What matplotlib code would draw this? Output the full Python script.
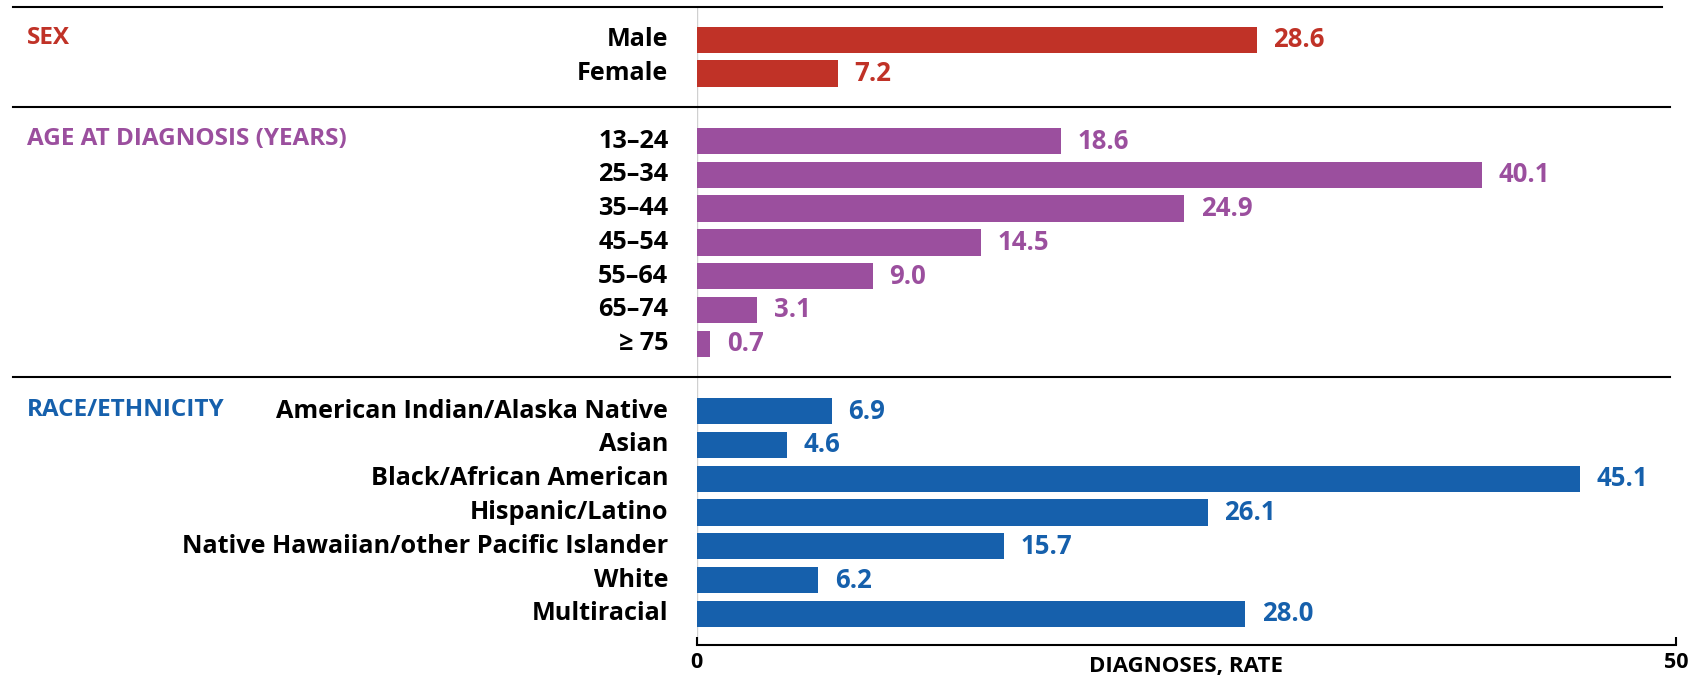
import matplotlib.pyplot as plt

# data
sex_labels = ["Male", "Female"]
sex_values = [28.6, 7.2]
age_labels = ["13–24", "25–34", "35–44", "45–54", "55–64", "65–74", "≥ 75"]
age_values = [18.6, 40.1, 24.9, 14.5, 9.0, 3.1, 0.7]
race_labels = ["American Indian/Alaska Native", "Asian", "Black/African American",
               "Hispanic/Latino", "Native Hawaiian/other Pacific Islander",
               "White", "Multiracial"]
race_values = [6.9, 4.6, 45.1, 26.1, 15.7, 6.2, 28.0]
group_titles = ["SEX", "AGE AT DIAGNOSIS (YEARS)", "RACE/ETHNICITY"]
group_colors = ["#C03227", "#9B4F9E", "#1660AC"]

plt.rcParams['font.family'] = ["Open Sans", "DejaVu Sans"]

fig = plt.figure(figsize=(16.91, 6.77), dpi=100)
ax = fig.add_axes([0.412, 0.047, 0.579, 0.942])

groups = [(sex_labels, sex_values), (age_labels, age_values), (race_labels, race_values)]
pos = 0
for gi, (labels, values) in enumerate(groups):
    col = group_colors[gi]
    first = pos
    for lab, v in zip(labels, values):
        ax.barh(pos, v, height=0.78, color=col)
        ax.text(v + 0.85, pos, f"{v:.1f}", color=col, fontsize=18.5, fontweight='bold',
                va='center', ha='left')
        ax.text(-1.45, pos, lab, fontsize=18.2, fontweight='bold', va='center', ha='right')
        pos += 1
    ax.text(-34.2, first - 0.05, group_titles[gi], color=col, fontsize=17.5,
            fontweight='bold', va='center', ha='left')
    pos += 1

ax.set_xlim(0, 50)
ax.set_ylim(17.93, -0.96)

# separator lines spanning into the label area
for yy, x1 in [(-0.96, 49.3), (2.0, 49.7), (10.0, 49.7)]:
    ax.plot([-34.9, x1], [yy, yy], color='black', lw=1.5, clip_on=False)

for s in ['top', 'right', 'left']:
    ax.spines[s].set_visible(False)
ax.axvline(0, color='#D0D0D0', lw=1, zorder=0)
ax.spines['bottom'].set_linewidth(1.5)
ax.set_yticks([])
ax.set_xticks([0, 50])
ax.tick_params(axis='x', direction='in', length=6, width=1.5, pad=5, labelsize=15.5)
for t in ax.get_xticklabels():
    t.set_fontweight('bold')
ax.set_xlabel("DIAGNOSES, RATE", fontsize=16, fontweight='bold', va='center')
ax.xaxis.set_label_coords(0.5, -0.033)

fig.savefig("out.png", dpi=100)
